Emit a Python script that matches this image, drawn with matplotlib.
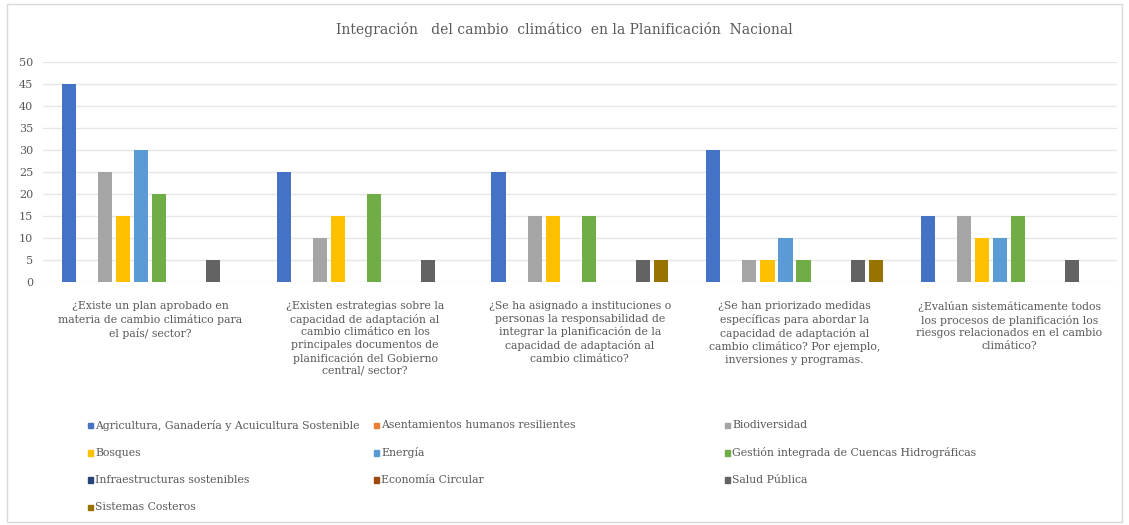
import numpy as np
import matplotlib.pyplot as plt
from matplotlib.patches import Rectangle

plt.rcParams['font.family'] = ['DejaVu Serif']

questions = [
    "¿Existe un plan aprobado en\nmateria de cambio climático para\nel país/ sector?",
    "¿Existen estrategias sobre la\ncapacidad de adaptación al\ncambio climático en los\nprincipales documentos de\nplanificación del Gobierno\ncentral/ sector?",
    "¿Se ha asignado a instituciones o\npersonas la responsabilidad de\nintegrar la planificación de la\ncapacidad de adaptación al\ncambio climático?",
    "¿Se han priorizado medidas\nespecíficas para abordar la\ncapacidad de adaptación al\ncambio climático? Por ejemplo,\ninversiones y programas.",
    "¿Evalúan sistemáticamente todos\nlos procesos de planificación los\nriesgos relacionados en el cambio\nclimático?",
]

sectors = [
    "Agricultura, Ganadería y Acuicultura Sostenible",
    "Asentamientos humanos resilientes",
    "Biodiversidad",
    "Bosques",
    "Energía",
    "Gestión integrada de Cuencas Hidrográficas",
    "Infraestructuras sostenibles",
    "Economía Circular",
    "Salud Pública",
    "Sistemas Costeros",
]

colors = ["#4472C4", "#ED7D31", "#A5A5A5", "#FFC000", "#5B9BD5",
          "#70AD47", "#264478", "#9E480E", "#636363", "#997300"]

# one list per sector, one value per question
agricultura = [45, 25, 25, 30, 15]
asentamientos = [0, 0, 0, 0, 0]
biodiversidad = [25, 10, 15, 5, 15]
bosques = [15, 15, 15, 5, 10]
energia = [30, 0, 0, 10, 10]
gestion = [20, 20, 15, 5, 15]
infraestructuras = [0, 0, 0, 0, 0]
economia = [0, 0, 0, 0, 0]
salud = [5, 5, 5, 5, 5]
costeros = [0, 0, 5, 5, 0]

series = [agricultura, asentamientos, biodiversidad, bosques, energia,
          gestion, infraestructuras, economia, salud, costeros]

fig = plt.figure(figsize=(11.29, 5.25), dpi=100)
ax = fig.add_axes([0.038, 0.463, 0.951, 0.419])

x = np.arange(len(questions))
pitch = 0.084
width = 0.066
for i, vals in enumerate(series):
    ax.bar(x + (i - 4.5) * pitch, vals, width, color=colors[i], zorder=3)

ax.set_xlim(-0.5, len(questions) - 0.5)
ax.set_ylim(0, 50)
ax.set_yticks(range(0, 51, 5))
ax.yaxis.grid(True, color="#E6E6E6", linewidth=1.0, zorder=0)
for s in ax.spines.values():
    s.set_visible(False)
ax.tick_params(axis='y', length=0, labelsize=8, labelcolor="#595959", pad=7)
ax.tick_params(axis='x', length=0, pad=14)
ax.set_xticks(x)
ax.set_xticklabels(questions, fontsize=7.8, color="#595959", linespacing=1.3,
                   va='top')

fig.text(0.5, 0.943, "Integración   del cambio  climático  en la Planificación  Nacional",
         ha='center', va='center', fontsize=10, color="#595959")

# legend, row by row, three columns
col_x = [0.078, 0.331, 0.642]
row_y = [0.190, 0.138, 0.086, 0.034]
for k, name in enumerate(sectors):
    r, c = divmod(k, 3)
    fig.patches.append(Rectangle((col_x[c], row_y[r] - 0.006), 0.0045, 0.0105,
                                 transform=fig.transFigure, color=colors[k]))
    fig.text(col_x[c] + 0.0065, row_y[r], name, fontsize=7.8, color="#595959",
             va='center', ha='left')

fig.patches.append(Rectangle((0.006, 0.006), 0.988, 0.986, transform=fig.transFigure,
                             fill=False, edgecolor="#D9D9D9", linewidth=1))

fig.savefig("out.png", dpi=100)
